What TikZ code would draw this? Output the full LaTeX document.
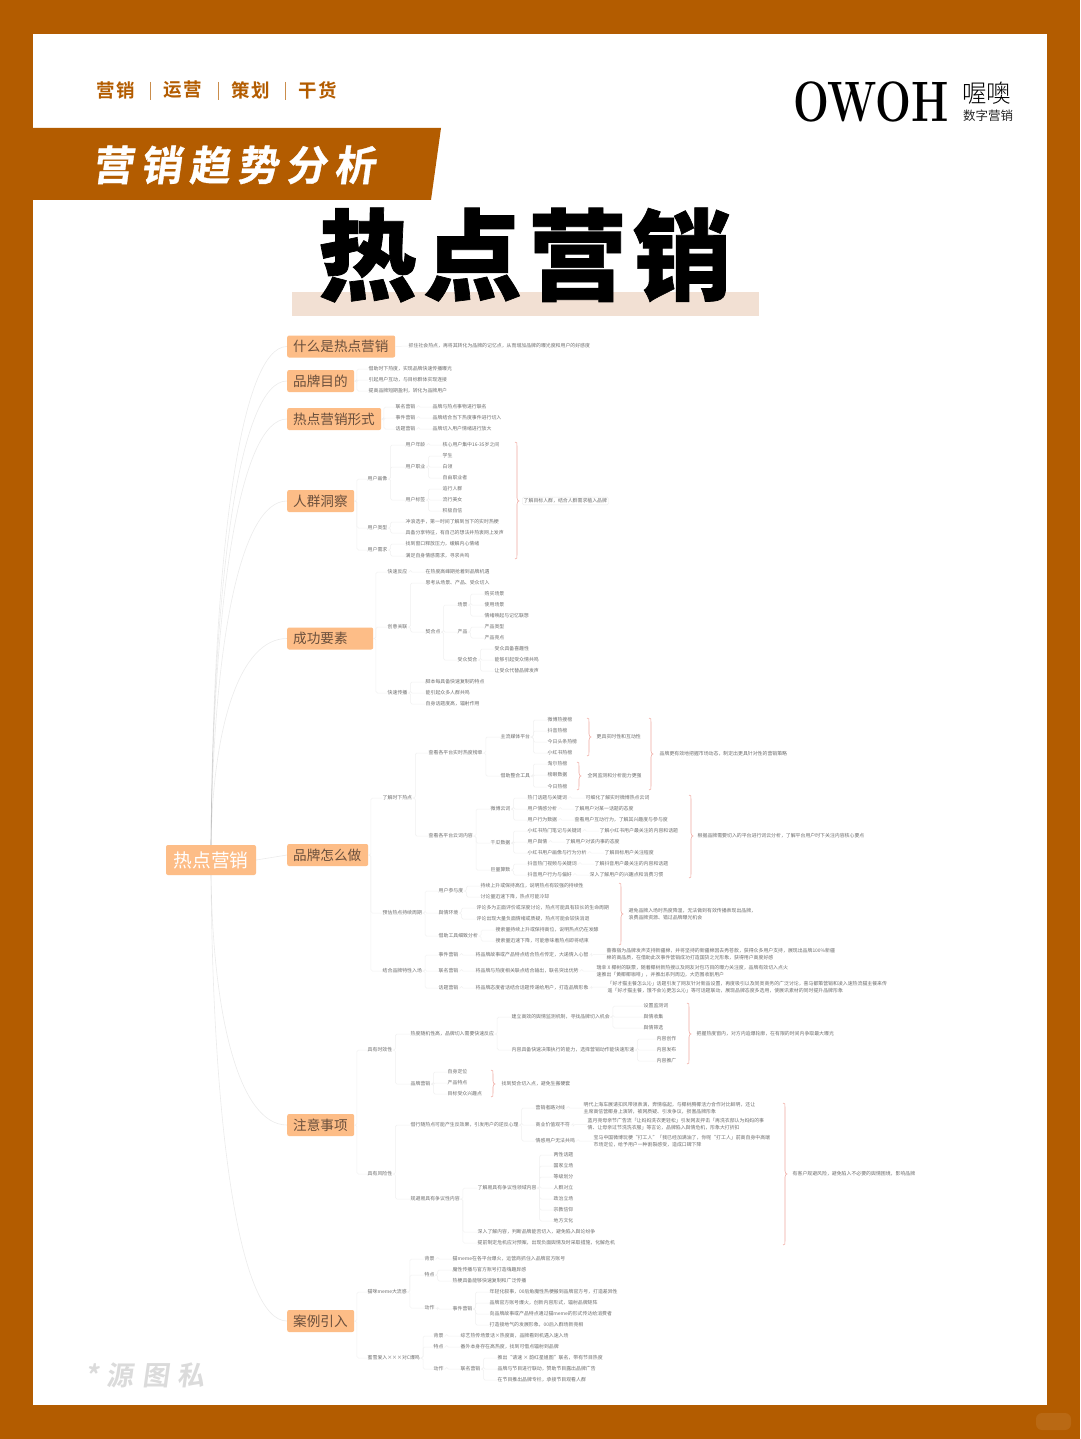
\documentclass[tikz,border=0pt]{standalone}
\usepackage{fontspec}
\setmainfont{Noto Sans CJK SC}
\newfontfamily\slantf[FakeSlant=0.14,FakeBold=0.8,LetterSpace=18]{Noto Sans CJK SC Bold}
\newfontfamily\wmf[FakeSlant=0.14,LetterSpace=30]{Noto Sans CJK SC Bold}
\newfontfamily\heavyf[FakeBold=0.7,LetterSpace=6]{Noto Sans CJK SC Black}
\newfontfamily\tagf[LetterSpace=10]{Noto Sans CJK SC Bold}
\newfontfamily\thinf{Noto Sans CJK SC Light}
\newfontfamily\logof{Latin Modern Roman}
\definecolor{rust}{HTML}{B35C00}
\definecolor{peach}{HTML}{FDBD87}
\definecolor{brtext}{HTML}{6A4F3C}
\definecolor{leafc}{HTML}{6E6E6E}
\definecolor{linec}{HTML}{F1F1F1}
\definecolor{bracec}{HTML}{F0A8A0}
\definecolor{hilite}{HTML}{F2E0D3}
\tikzset{
 leaf/.style={font=\fontsize{4.9}{6.9}\selectfont,text=leafc,inner xsep=0.5pt,inner ysep=0.5pt,anchor=west,align=left},
 branchbox/.style={fill=peach,rounded corners=2pt,text=brtext,font=\fontsize{13.6}{15}\selectfont,anchor=west,align=left,inner xsep=6pt,inner ysep=0pt},
 ln/.style={draw=linec,line width=0.5pt,rounded corners=1.5pt},
 curveln/.style={draw=black,draw opacity=0.08,line width=0.6pt},
 brc/.style={draw=bracec,line width=0.55pt},
 tagtext/.style={font=\tagf\fontsize{18.5}{20}\selectfont,text=rust,anchor=west,inner sep=0pt},
}
\newcommand\lf[4]{\node[leaf] (#1) at (#2,#3) {#4};}
\newcommand\cn[2]{\foreach \k in {#2}{\draw[ln] (#1.east) -- ++(2.5,0) |- (\k.west);}}
\newcommand\br[5]{\node[branchbox,minimum height=22pt,text width=#4pt-12pt] (#1) at (#2,#3) {#5};}
\newcommand\bracket[4]{% x top bottom tip
 \pgfmathsetmacro\xa{#1}\pgfmathsetmacro\xb{#1+2}\pgfmathsetmacro\xc{#1+4}
 \draw[brc] (\xa,#2) .. controls (\xb,#2) and (\xb,#2+1) .. (\xb,#2+4) -- (\xb,#4-3)
  .. controls (\xb,#4-1) and (\xc-1,#4) .. (\xc,#4) .. controls (\xc-1,#4) and (\xb,#4+1) .. (\xb,#4+3)
  -- (\xb,#3-4) .. controls (\xb,#3-1) and (\xb,#3) .. (\xa,#3);}
\begin{document}
\begin{tikzpicture}[x=1pt,y=-1pt]
\useasboundingbox (0,0) rectangle (1080,1439);
\fill[rust] (0,0) rectangle (1080,1439);
\fill[white] (33,34) rectangle (1047,1405);
\fill[rust] (33,128) -- (441,128) -- (431,200) -- (33,200) -- cycle;
\fill[rust!92!white,rounded corners=6pt] (1036,1413) rectangle (1071,1430);
% tags
\node[tagtext] (t1) at (96,90) {营销};
\node[tagtext] (t2) at (163,90) {运营};
\node[tagtext] (t3) at (231,90) {策划};
\node[tagtext] (t4) at (298,90) {干货};
\draw[rust!70,line width=0.6pt] (150,82) -- (150,100) (218,82) -- (218,100) (285,82) -- (285,100);
% logo
\node[anchor=west,inner sep=0pt,font=\logof\bfseries\fontsize{57}{60}\selectfont,text=black] (logo) at (793,101.5) {\scalebox{0.745}[1]{OWOH}};
\node[anchor=west,inner sep=0pt,font=\thinf\fontsize{24.5}{26}\selectfont] (lg2) at (962,93) {喔噢};
\node[anchor=west,inner sep=0pt,font=\fontsize{12.5}{14}\selectfont,text=black!85] (lg3) at (963,115.5) {数字营销};
% banner
\node[anchor=west,inner sep=0pt,text=white,font=\slantf\fontsize{41}{44}\selectfont] (bn) at (92,165) {营销趋势分析};
% title
\fill[hilite] (292,292) rectangle (759,316);
\node[anchor=center,inner sep=0pt,font=\heavyf\fontsize{99}{104}\selectfont,text=black] (title) at (525,255) {热点营销};
% watermark
\node[anchor=west,inner sep=0pt,text=black!14,font=\wmf\fontsize{27}{30}\selectfont] (wm) at (85,1375) {*源图私};
% root + branches
\node[fill=peach,rounded corners=2pt,text=white,font=\fontsize{18.7}{20}\selectfont,minimum width=90pt,minimum height=30pt,inner sep=0pt] (root) at (211,860) {热点营销};
\br{b1}{287}{346.5}{108}{什么是热点营销}
\br{b2}{287}{381}{67}{品牌目的}
\br{b3}{287}{419}{94}{热点营销形式}
\br{b4}{287}{501}{67}{人群洞察}
\br{b5}{287}{638.5}{86}{成功要素}
\br{b6}{287}{855}{81}{品牌怎么做}
\br{b7}{287}{1125}{67}{注意事项}
\br{b8}{287}{1321}{67}{案例引入}
\foreach \n/\yy in {b1/346.5,b2/381,b3/419,b4/501,b5/638.5}
 \draw[curveln] (root.north) .. controls (213,{\yy+(845-\yy)*0.42}) and (240,\yy) .. (\n.west);
\foreach \n/\yy in {b7/1125,b8/1321}
 \draw[curveln] (root.south) .. controls (213,{\yy-(\yy-875)*0.42}) and (240,\yy) .. (\n.west);
\draw[curveln] (root.east) -- (b6.west);
% b1
\lf{a1}{408}{346}{抓住社会热点，再将其转化为品牌的记忆点，从而增加品牌的曝光度和用户的好感度}
\draw[ln] (b1.east) -- (a1.west);
% b2
\lf{a2}{368}{369}{借助时下热度，实现品牌快速传播曝光}
\lf{a3}{368}{380}{引起用户互动，与目标群体实现连接}
\lf{a4}{368}{391}{提高品牌短期盈利，转化为品牌用户}
\cn{b2}{a2,a3,a4}
% b3
\lf{c1}{395}{407}{联名营销}\lf{c2}{395}{418}{事件营销}\lf{c3}{395}{429}{话题营销}
\lf{c4}{432}{407}{品牌与热点事物进行联名}\lf{c5}{432}{418}{品牌结合当下热度事件进行切入}\lf{c6}{432}{429}{品牌切入用户情绪进行放大}
\cn{b3}{c1,c2,c3}\cn{c1}{c4}\cn{c2}{c5}\cn{c3}{c6}
% b4
\lf{d1}{367}{479}{用户画像}\lf{d2}{367}{528}{用户类型}\lf{d3}{367}{550}{用户需求}
\lf{d4}{405}{445}{用户年龄}\lf{d5}{405}{467}{用户职业}\lf{d6}{405}{500}{用户标签}
\lf{d7}{442}{445}{核心用户集中16-35岁之间}
\lf{d8}{442}{456}{学生}\lf{d9}{442}{467}{白领}\lf{d10}{442}{478}{自由职业者}
\lf{d11}{442}{489}{追行人群}\lf{d12}{442}{500}{流行美女}\lf{d13}{442}{511}{积极自信}
\lf{d14}{405}{522}{冲浪选手，第一时间了解到当下的实时热梗}
\lf{d15}{405}{533}{具备分享特征，有自己的想法并热衷网上发声}
\lf{d16}{405}{544}{找到窗口释放压力，缓解内心情绪}
\lf{d17}{405}{556}{满足自身情感需求，寻求共鸣}
\cn{b4}{d1,d2,d3}\cn{d1}{d4,d5,d6}\cn{d4}{d7}\cn{d5}{d8,d9,d10}\cn{d6}{d11,d12,d13}\cn{d2}{d14,d15}\cn{d3}{d16,d17}
\bracket{515}{442}{559}{501}
\node[leaf,draw=black!8,rounded corners=1.5pt,inner xsep=1.5pt,inner ysep=1.5pt] (d18) at (522,501) {了解目标人群，结合人群需求植入品牌};
% b5
\lf{e1}{387}{572}{快速反应}\lf{e2}{387}{627}{创意关联}\lf{e3}{387}{693}{快速传播}
\lf{e4}{425}{572}{在热度高峰期抢着到品牌机遇}\lf{e5}{425}{583}{思考从场景、产品、受众切入}\lf{e6}{425}{632}{契合点}
\lf{e7}{457}{605}{场景}\lf{e8}{457}{632}{产品}\lf{e9}{457}{660}{受众契合}
\lf{e10}{484}{594}{购买场景}\lf{e11}{484}{605}{使用场景}\lf{e12}{484}{616}{情绪唤起与记忆联想}
\lf{e13}{484}{627}{产品类型}\lf{e14}{484}{638}{产品亮点}
\lf{e15}{494}{649}{受众具备喜趣性}\lf{e16}{494}{660}{能够引起受众情共鸣}\lf{e17}{494}{671}{让受众代替品牌发声}
\lf{e18}{425}{682}{脚本每具备快速复制的特点}\lf{e19}{425}{693}{能引起众多人群共鸣}\lf{e20}{425}{704}{自身话题度高，辐射作用}
\cn{b5}{e1,e2,e3}\cn{e1}{e4}\cn{e2}{e5,e6}\cn{e6}{e7,e8,e9}\cn{e7}{e10,e11,e12}\cn{e8}{e13,e14}\cn{e9}{e15,e16,e17}\cn{e3}{e18,e19,e20}
% b6 part 1
\lf{f1}{382}{798}{了解时下热点}
\lf{f2}{428}{753}{查看各平台实时热度榜单}\lf{f3}{428}{836}{查看各平台云词内容}
\lf{f4}{500}{737}{主流媒体平台}\lf{f5}{500}{776}{借助整合工具}
\lf{f6}{547}{720}{微博热搜榜}\lf{f7}{547}{731}{抖音热榜}\lf{f8}{547}{742}{今日头条热榜}\lf{f9}{547}{753}{小红书热榜}
\lf{f10}{547}{764}{淘尔热榜}\lf{f11}{547}{775}{榜眼数据}\lf{f12}{547}{787}{今日热榜}
\bracket{587}{718}{756}{737}\lf{f13}{596}{737}{更具实时性和互动性}
\bracket{577}{762}{790}{776}\lf{f14}{587}{776}{全网监测和分析能力更强}
\bracket{649}{718}{790}{754}\lf{f15}{659}{754}{品牌更有效地把握市场动态，制定出更具针对性的营销策略}
\cn{f1}{f2,f3}\cn{f2}{f4,f5}\cn{f4}{f6,f7,f8,f9}\cn{f5}{f10,f11,f12}
\lf{f16}{490}{809}{微博云词}\lf{f17}{490}{843}{千瓜数据}\lf{f18}{490}{870}{巨量算数}
\lf{f19}{527}{798}{热门话题与关键词}\lf{f20}{585}{798}{可细化了解实时微博热点云词}
\lf{f21}{527}{809}{用户情感分析}\lf{f22}{574}{809}{了解用户对某一话题的态度}
\lf{f23}{527}{820}{用户行为数据}\lf{f24}{574}{820}{查看用户互动行为，了解其兴趣度与参与度}
\lf{f25}{527}{831}{小红书热门笔记与关键词}\lf{f26}{599}{831}{了解小红书用户最关注的内容和话题}
\lf{f27}{527}{842}{用户舆情}\lf{f28}{565}{842}{了解用户对该内事的态度}
\lf{f29}{527}{853}{小红书用户画像与行为分析}\lf{f30}{604}{853}{了解目标用户关注程度}
\lf{f31}{527}{864}{抖音热门视频与关键词}\lf{f32}{594}{864}{了解抖音用户最关注的内容和话题}
\lf{f33}{527}{875}{抖音用户行为与偏好}\lf{f34}{589}{875}{深入了解用户的兴趣点和消费习惯}
\cn{f3}{f16,f17,f18}\cn{f16}{f19,f21,f23}\cn{f17}{f25,f27,f29}\cn{f18}{f31,f33}
\cn{f19}{f20}\cn{f21}{f22}\cn{f23}{f24}\cn{f25}{f26}\cn{f27}{f28}\cn{f29}{f30}\cn{f31}{f32}\cn{f33}{f34}
\bracket{689}{795}{878}{836}\lf{f35}{697}{836}{根据品牌需要切入的平台进行词云分析，了解平台用户时下关注内容核心要点}
% b6 part 2
\lf{g1}{382}{913}{预估热点持续周期}
\lf{g2}{438}{891}{用户参与度}\lf{g3}{438}{913}{舆情环境}\lf{g4}{438}{936}{借助工具细致分析}
\lf{g5}{480}{886}{持续上升或保持高位，说明热点有较强的持续性}\lf{g6}{480}{897}{讨论量迅速下降，热点可能冷却}
\lf{g7}{476}{908}{评论多为正面评价或深度讨论，热点可能具有较长的生命周期}\lf{g8}{476}{919}{评论出现大量负面情绪或质疑，热点可能会较快消退}
\lf{g9}{495}{930}{搜索量持续上升或保持高位，说明热点仍在发酵}\lf{g10}{495}{941}{搜索量迅速下降，可能意味着热点即将结束}
\cn{g1}{g2,g3,g4}\cn{g2}{g5,g6}\cn{g3}{g7,g8}\cn{g4}{g9,g10}
\bracket{619}{883}{945}{914}\lf{g11}{628}{914}{避免品牌入场时热度降温，无法做到有效传播表现出品牌，\\浪费品牌资源、错过品牌曝光机会}
\lf{h1}{382}{971}{结合品牌特性入场}
\cn{b6}{f1,g1,h1}
\lf{h2}{438}{955}{事件营销}\lf{h3}{438}{971}{联名营销}\lf{h4}{438}{988}{话题营销}
\lf{h5}{475}{955}{将品牌故事或产品特点结合热点传定，大递情入心智}\lf{h6}{475}{971}{将品牌与热度相关联点结合输出，联名突出优势}\lf{h7}{475}{988}{将品牌态度者话结合话题传递给用户，打造品牌形象}
\lf{h8}{606}{954.5}{蔷薇宿为品牌发声支持新疆棉，并将坚持的新疆棉因去秀苍款，获得众多用户支持，展现出品牌100\%新疆\\棉的高品质，在借助此次事件营销成功打造国货之光形象，获得用户高度好感}
\lf{h9}{596}{971}{瑞幸 X 椰树的联票，随着椰树新热搜以及网友对包巧目的曝力关注度，品牌有效切入点火\\速推出「黄椰椰咖啡」，并推出系列周边，大范围收割用户}
\lf{h10}{607}{987}{「好才猫主餐怎么沁」话题引发了网友针对新品设置，再度吸引以及同类商务的广泛讨论，喜马都策营销和凌入速热流猫主餐来传\\遥「好才猫主餐，饿不会沁更怎么沁」等可话题联动，展现品牌态度多选用，使展讯素材的同时提升品牌形象}
\cn{h1}{h2,h3,h4}\cn{h2}{h5}\cn{h3}{h6}\cn{h4}{h7}\cn{h5}{h8}\cn{h6}{h9}\cn{h7}{h10}
% b7 part 1
\lf{i1}{367}{1050}{具有时效性}
\lf{i2}{410}{1034}{热度随机性高，品牌切入需要快速反应}\lf{i3}{410}{1084}{品牌营销}
\lf{i4}{511}{1017}{建立高效的舆情监测机制，寻找品牌切入机会}\lf{i5}{511}{1050}{内容具备快速决策执行的能力，选择营销动作能快速形速}
\lf{i6}{643}{1006}{设置监测词}\lf{i7}{643}{1017}{舆情收集}\lf{i8}{643}{1028}{舆情筛选}
\lf{i9}{656}{1039}{内容创作}\lf{i10}{656}{1050}{内容发布}\lf{i11}{656}{1061}{内容推广}
\bracket{687}{1003}{1064}{1034}\lf{i12}{696}{1034}{把握热度窗内，对方内追爆轮廓，在有限的时间内争取最大曝光}
\lf{i13}{447}{1072}{自身定位}\lf{i14}{447}{1083}{产品特点}\lf{i15}{447}{1094}{目标受众兴趣点}
\bracket{491}{1070}{1097}{1084}\lf{i16}{501}{1084}{找到契合切入点，避免生搬硬套}
\cn{i1}{i2,i3}\cn{i2}{i4,i5}\cn{i4}{i6,i7,i8}\cn{i5}{i9,i10,i11}\cn{i3}{i13,i14,i15}
% b7 part 2
\lf{j1}{367}{1174}{具有风险性}
\cn{b7}{i1,j1}
\lf{j2}{410}{1125}{借行随热点可能产生反效果，引发用户的逆反心理}\lf{j3}{410}{1199}{规避易具有争议性内容}
\lf{j4}{535}{1108}{营销者路对线}\lf{j5}{535}{1125}{商业价值观不符}\lf{j6}{535}{1141}{情感用户无法共鸣}
\lf{j7}{583}{1108}{明代上海车展请扣风带领表演，奔情临起，与椰树腾椰活力合作对比鲜明，还让\\主席高信营椰身上演转，被网质疑、引发争议，损害品牌形象}
\lf{j8}{587}{1124.5}{蓝月亮母亲节广告流「让妈妈洗衣更轻松」引发网友抨击「再洗衣部认为妈妈的事\\情、让母亲过节洗洗衣服」等言论，品牌陷入舆情危机，形象大打折扣}
\lf{j9}{593}{1141}{宝马中国微博玩梗“打工人”「我已经加满油了，你呢“打工人」前高自身中高端\\市场定位，给予用户一种割裂感受，造成口碑下降}
\lf{j10}{477}{1188}{了解易具有争议性领域内容}
\lf{j11}{553}{1155}{两性话题}\lf{j12}{553}{1166}{国家立场}\lf{j13}{553}{1177}{等级划分}\lf{j14}{553}{1188}{人群对立}\lf{j15}{553}{1199}{政治立场}\lf{j16}{553}{1210}{宗教信仰}\lf{j17}{553}{1221}{地方文化}
\lf{j18}{477}{1232}{深入了解内容，判断品牌能否切入，避免陷入舆论纷争}
\lf{j19}{477}{1243}{提前制定危机应对预案，出现负面舆情及时采取措施，化解危机}
\cn{j1}{j2,j3}\cn{j2}{j4,j5,j6}\cn{j4}{j7}\cn{j5}{j8}\cn{j6}{j9}\cn{j3}{j10,j18,j19}\cn{j10}{j11,j12,j13,j14,j15,j16,j17}
\bracket{783}{1103}{1245}{1174}\lf{j20}{792}{1174}{有客户规避风险，避免陷入不必要的舆情困境，影响品牌}
% b8
\lf{k1}{367}{1292}{猫咪meme大流感}
\lf{k2}{424}{1259}{背景}\lf{k3}{424}{1275}{特点}\lf{k4}{424}{1308}{动作}
\lf{k5}{452}{1259}{猫meme在各平台爆火，运营商抓住入品牌官方账号}
\lf{k6}{452}{1270}{魔性传播与官方账号打造嗨趣异感}\lf{k7}{452}{1281}{热梗具备能够快速复制和广泛传播}
\lf{k8}{452}{1309}{事件营销}
\lf{k9}{489}{1292}{年轻化叙事，00后角魔性热梗搬到品牌官方号，打造差异性}\lf{k10}{489}{1303}{品牌官方账号爆火，创新内容形式，辐射品牌矩阵}
\lf{k11}{489}{1314}{向品牌故事或产品特点通过猫meme的形式传达给消费者}\lf{k12}{489}{1325}{打造接地气的发展形象，00后入群场新亮相}
\lf{m1}{367}{1358}{蜜雪爱入×××对C爆鸣}
\lf{m2}{433}{1336}{背景}\lf{m3}{433}{1347}{特点}\lf{m4}{433}{1369}{动作}
\lf{m5}{460}{1336}{综艺热传场景话×热度高，品牌看到机遇入速入场}\lf{m6}{460}{1347}{番外本身存在高热度，找到可借点辐射到品牌}\lf{m7}{460}{1369}{联名营销}
\lf{m8}{497}{1358}{推出“请速 × 韵红星姐图”联名，带有节目热度}\lf{m9}{497}{1369}{品牌与节目进行联动，赞助节目露出品牌广告}\lf{m10}{497}{1380}{在节目推出品牌专栏，承接节目观看人群}
\cn{b8}{k1,m1}\cn{k1}{k2,k3,k4}\cn{k2}{k5}\cn{k3}{k6,k7}\cn{k4}{k8}\cn{k8}{k9,k10,k11,k12}
\cn{m1}{m2,m3,m4}\cn{m2}{m5}\cn{m3}{m6}\cn{m4}{m7}\cn{m7}{m8,m9,m10}
\end{tikzpicture}
\end{document}
